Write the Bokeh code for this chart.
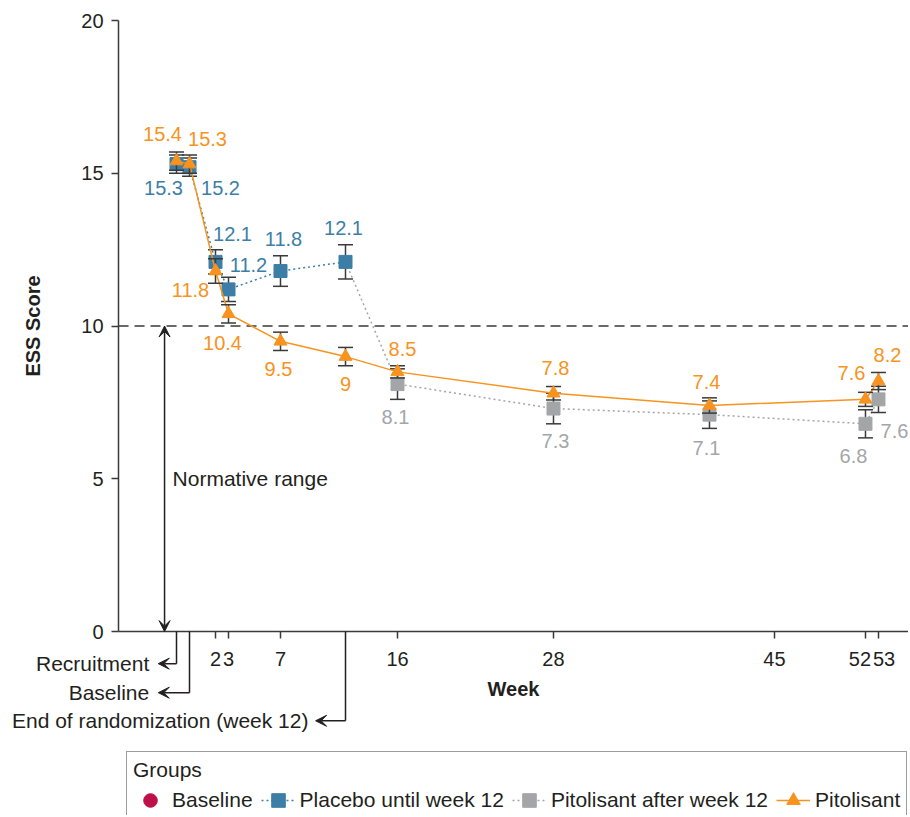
from bokeh.plotting import figure
from bokeh.models import (ColumnDataSource, Range1d, FixedTicker, Label,
                          Arrow, VeeHead, Legend, LegendItem)
from bokeh.embed import file_html
from bokeh.resources import INLINE

# ---------------- data ----------------
pit_weeks = [-1, 0, 2, 3, 7, 12, 16, 28, 40, 52, 53]
pit_ess = [15.4, 15.3, 11.8, 10.4, 9.5, 9.0, 8.5, 7.8, 7.4, 7.6, 8.2]
pit_err = [0.3, 0.3, 0.4, 0.3, 0.3, 0.3, 0.2, 0.22, 0.25, 0.23, 0.28]
pit_labels = ["15.4", "15.3", "11.8", "10.4", "9.5", "9", "8.5", "7.8", "7.4", "7.6", "8.2"]

pbo_weeks = [-1, 0, 2, 3, 7, 12]
pbo_ess = [15.3, 15.2, 12.1, 11.2, 11.8, 12.1]
pbo_err = [0.3, 0.3, 0.4, 0.4, 0.5, 0.56]
pbo_labels = ["15.3", "15.2", "12.1", "11.2", "11.8", "12.1"]

after_weeks = [16, 28, 40, 52, 53]
after_ess = [8.1, 7.3, 7.1, 6.8, 7.6]
after_err = [0.5, 0.5, 0.45, 0.46, 0.43]
after_labels = ["8.1", "7.3", "7.1", "6.8", "7.6"]

# "Baseline" group: listed in the legend, no visible values
baseline_weeks = [float("nan")]
baseline_ess = [float("nan")]

x_ticks = [2, 3, 7, 16, 28, 45, 52, 53]
x_tick_labels = {52: "52\u00a0\u00a0", 53: "\u00a0\u00a053"}
y_ticks = [0, 5, 10, 15, 20]
y_min, y_max = 0, 20
normative_cutoff = 10
recruitment_week = -1
baseline_week = 0
end_random_week = 12

# ---------------- styles / layout ----------------
ORANGE = "#F7931E"
BLUE = "#3D7EA6"
GRAY = "#A3A6A9"
CRIMSON = "#BE0F4A"
DARK = "#231F20"
AX = "#3A3A3A"
FONT = "Liberation Sans"

X_LEFT, X_RIGHT = -14.54, 55.31      # visible canvas span (weeks)
Y_BOTTOM, Y_TOP = -6.02, 20.655      # visible canvas span (score)
X_AXIS_START = -5.46                 # where the y axis sits

# label offsets in screen px
pit_dx = [-14, 18, -25, -6, -2, 0, 5, 2, -3, -14, 9]
pit_dy = [-27, -25, 19, 29, 28, 27, -23, -25, -23, -26, -26]
pbo_dx = [-13, 31, 17, 20, 3, -2]
pbo_dy = [24, 21, -28, -24, -32, -34]
after_dx = [-2, 2, -3, -12, 16]
after_dy = [33, 32, 33, 32, 32]

p = figure(width=908, height=815, output_backend="svg", toolbar_location=None,
           x_range=Range1d(X_LEFT, X_RIGHT), y_range=Range1d(Y_BOTTOM, Y_TOP),
           min_border=0, min_border_left=0, min_border_right=0,
           min_border_top=0, min_border_bottom=0)
p.outline_line_color = None
p.xgrid.visible = False
p.ygrid.visible = False
p.background_fill_color = "white"
p.border_fill_color = "white"

for ax in (p.xaxis[0], p.yaxis[0]):
    ax.axis_line_color = AX
    ax.axis_line_width = 1.5
    ax.major_tick_line_color = AX
    ax.major_tick_line_width = 1.5
    ax.major_tick_out = 7
    ax.major_tick_in = 0
    ax.minor_tick_line_color = None
    ax.major_label_text_font = FONT
    ax.major_label_text_font_size = "20px"
    ax.major_label_text_color = DARK
    ax.axis_label_text_font = FONT
    ax.axis_label_text_font_size = "20px"
    ax.axis_label_text_font_style = "bold"
    ax.axis_label_text_color = DARK

p.xaxis.ticker = FixedTicker(ticks=x_ticks)
p.xaxis.major_label_overrides = x_tick_labels
p.yaxis.ticker = FixedTicker(ticks=y_ticks)
p.xaxis.axis_label = "Week"
p.yaxis.axis_label = "ESS Score"
p.xaxis.fixed_location = y_min
p.yaxis.fixed_location = X_AXIS_START
p.xaxis.bounds = (X_AXIS_START, X_RIGHT)
p.yaxis.bounds = (y_min, y_max)
p.xaxis.major_label_standoff = 9
p.xaxis.axis_label_standoff = 5
p.yaxis.major_label_standoff = 8
p.yaxis.axis_label_standoff = 34

# normative cut-off line (dashed) from the y axis to the right edge
p.segment(x0=[X_AXIS_START], y0=[normative_cutoff], x1=[X_RIGHT], y1=[normative_cutoff],
          line_color=AX, line_width=1.5, line_dash="10 6")

# ---------------- sources ----------------
def lohi(v, e):
    return [a - b for a, b in zip(v, e)], [a + b for a, b in zip(v, e)]

pit_lo, pit_hi = lohi(pit_ess, pit_err)
pbo_lo, pbo_hi = lohi(pbo_ess, pbo_err)
aft_lo, aft_hi = lohi(after_ess, after_err)

src_pit = ColumnDataSource(dict(x=pit_weeks, y=pit_ess, lo=pit_lo, hi=pit_hi,
                                t=pit_labels, dx=pit_dx, dy=pit_dy))
src_pbo = ColumnDataSource(dict(x=pbo_weeks, y=pbo_ess, lo=pbo_lo, hi=pbo_hi,
                                t=pbo_labels, dx=pbo_dx, dy=pbo_dy))
src_aft = ColumnDataSource(dict(x=after_weeks, y=after_ess, lo=aft_lo, hi=aft_hi,
                                t=after_labels, dx=after_dx, dy=after_dy))
# the post-week-12 line starts from the last placebo point
src_aft_line = ColumnDataSource(dict(x=[pbo_weeks[-1]] + after_weeks,
                                     y=[pbo_ess[-1]] + after_ess))
src_base = ColumnDataSource(dict(x=baseline_weeks, y=baseline_ess))


def errorbars(src):
    p.segment(x0="x", y0="lo", x1="x", y1="hi", source=src, line_color=AX, line_width=1.5)
    p.scatter(x="x", y="lo", source=src, marker="dash", size=15, line_color=AX, line_width=1.5)
    p.scatter(x="x", y="hi", source=src, marker="dash", size=15, line_color=AX, line_width=1.5)


r_pbo_line = p.line(x="x", y="y", source=src_pbo, line_color=BLUE, line_width=1.5, line_dash="2 3")
r_aft_line = p.line(x="x", y="y", source=src_aft_line, line_color=GRAY, line_width=1.5, line_dash="2 3")
errorbars(src_pbo)
errorbars(src_aft)
r_pbo_pts = p.scatter(x="x", y="y", source=src_pbo, marker="square", size=13,
                      fill_color=BLUE, line_color=BLUE)
r_aft_pts = p.scatter(x="x", y="y", source=src_aft, marker="square", size=13,
                      fill_color=GRAY, line_color=GRAY)
r_pit_line = p.line(x="x", y="y", source=src_pit, line_color=ORANGE, line_width=1.5)
errorbars(src_pit)
r_pit_pts = p.scatter(x="x", y="y", source=src_pit, marker="triangle", size=13,
                      fill_color=ORANGE, line_color=ORANGE)
r_base = p.scatter(x="x", y="y", source=src_base, marker="circle", size=13,
                   fill_color=CRIMSON, line_color=CRIMSON)

for src, col in ((src_pit, ORANGE), (src_pbo, BLUE), (src_aft, GRAY)):
    p.text(x="x", y="y", text="t", source=src, x_offset="dx", y_offset="dy",
           text_align="center", text_baseline="middle", text_font_size="20px",
           text_font={"value": FONT}, text_color=col)

# ---------------- annotations ----------------
def head():
    return VeeHead(size=11, fill_color=DARK, line_color=DARK, line_width=1)

norm_x = -1.92
p.add_layout(Arrow(x_start=norm_x, y_start=y_min, x_end=norm_x, y_end=normative_cutoff,
                   start=head(), end=head(), line_color=DARK, line_width=1.5))
p.add_layout(Label(x=-1.3, y=normative_cutoff / 2, text="Normative range",
                   text_font=FONT, text_font_size="21px", text_color=DARK,
                   text_baseline="middle", text_align="left"))

brackets = [(recruitment_week, -1.05, -2.4, -3.1, "Recruitment"),
            (baseline_week, -2.0, -2.4, -3.1, "Baseline"),
            (end_random_week, -2.92, 9.7, 9.15, "End of randomization (week 12)")]
for wk, yb, xtip, xtxt, txt in brackets:
    p.add_layout(Arrow(x_start=wk, y_start=y_min, x_end=wk, y_end=yb, end=None,
                       line_color=DARK, line_width=1.5))
    p.add_layout(Arrow(x_start=wk, y_start=yb, x_end=xtip, y_end=yb, end=head(),
                       line_color=DARK, line_width=1.5))
    p.add_layout(Label(x=xtxt, y=yb, text=txt, text_font=FONT, text_font_size="21px",
                       text_color=DARK, text_baseline="middle", text_align="right"))

# ---------------- legend ----------------
legend = Legend(items=[
    LegendItem(label="Baseline", renderers=[r_base]),
    LegendItem(label="Placebo until week 12", renderers=[r_pbo_line, r_pbo_pts]),
    LegendItem(label="Pitolisant after week 12", renderers=[r_aft_line, r_aft_pts]),
    LegendItem(label="Pitolisant", renderers=[r_pit_line, r_pit_pts]),
], orientation="horizontal", location=(126, -9), title="Groups")
legend.title_text_font = FONT
legend.title_text_font_size = "21px"
legend.title_text_font_style = "normal"
legend.title_text_color = DARK
legend.title_standoff = 1
legend.label_text_font = FONT
legend.label_text_font_size = "21px"
legend.label_text_color = DARK
legend.label_standoff = 5
legend.glyph_width = 34
legend.glyph_height = 34
legend.spacing = 8
legend.padding = 6
legend.margin = 0
legend.border_line_color = AX
legend.border_line_width = 1.5
legend.background_fill_color = "white"
legend.background_fill_alpha = 1
p.add_layout(legend)

open("out.html", "w").write(file_html(p, INLINE))
